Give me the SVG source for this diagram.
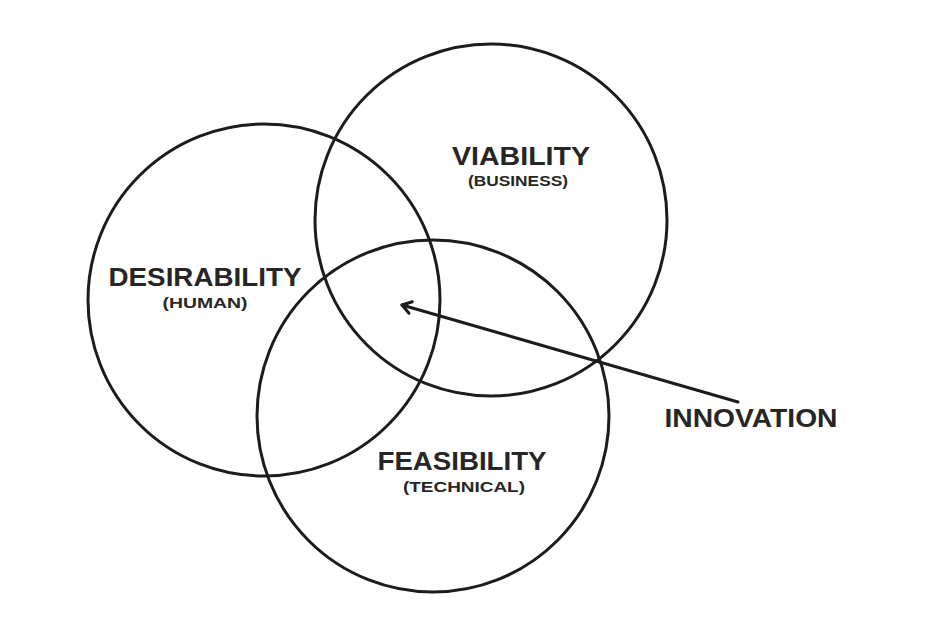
<svg xmlns="http://www.w3.org/2000/svg" width="934" height="640" viewBox="0 0 934 640">
<defs>
<style>
.ring{fill:none;stroke:#1c1c1c;stroke-width:3}
.t{font-family:"Liberation Sans",Arial,sans-serif;font-weight:bold;fill:#262626;text-anchor:middle}
.big{font-size:25px}
.small{font-size:14px}
.con{fill:none;stroke:#1c1c1c;stroke-width:3;stroke-linecap:round;stroke-linejoin:round}
</style>
<marker id="arr" viewBox="0 0 16 16" refX="13" refY="8" markerWidth="16" markerHeight="16" markerUnits="userSpaceOnUse" orient="auto">
<path d="M4,2 L13,8 L4,14" fill="none" stroke="#1c1c1c" stroke-width="3" stroke-linecap="round" stroke-linejoin="round"/>
</marker>
</defs>
<rect width="934" height="640" fill="#fff"/>
<g id="desirability">
<circle class="ring" cx="264" cy="300" r="176"/>
<text class="t big" x="205" y="286" textLength="193" lengthAdjust="spacingAndGlyphs">DESIRABILITY</text>
<text class="t small" x="205" y="308" textLength="85" lengthAdjust="spacingAndGlyphs">(HUMAN)</text>
</g>
<g id="viability">
<circle class="ring" cx="491" cy="220" r="176"/>
<text class="t big" x="521" y="165" textLength="138" lengthAdjust="spacingAndGlyphs">VIABILITY</text>
<text class="t small" x="518" y="186" textLength="100" lengthAdjust="spacingAndGlyphs">(BUSINESS)</text>
</g>
<g id="feasibility">
<circle class="ring" cx="433" cy="416" r="176"/>
<text class="t big" x="462" y="470" textLength="169" lengthAdjust="spacingAndGlyphs">FEASIBILITY</text>
<text class="t small" x="464" y="492" textLength="122" lengthAdjust="spacingAndGlyphs">(TECHNICAL)</text>
</g>
<g id="innovation">
<text class="t big" x="751" y="427" textLength="173" lengthAdjust="spacingAndGlyphs">INNOVATION</text>
</g>
<g id="connectors">
<line class="con" x1="738" y1="402" x2="402" y2="305" marker-end="url(#arr)"/>
</g>
</svg>
